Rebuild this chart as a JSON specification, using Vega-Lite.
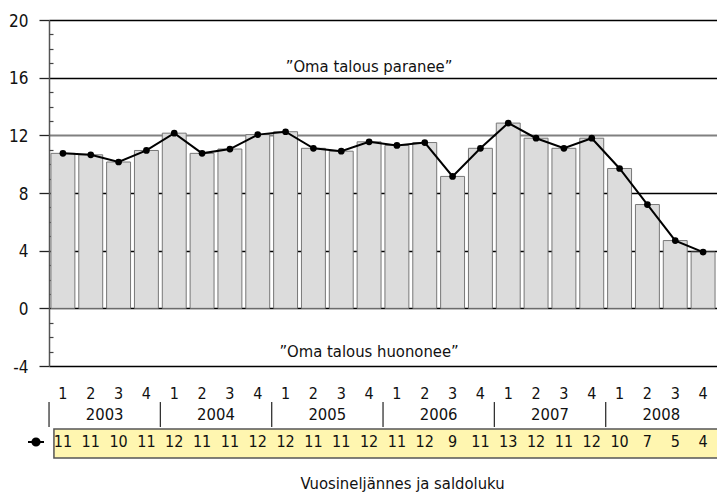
{
  "$schema": "https://vega.github.io/schema/vega-lite/v6.json",
  "width": 668,
  "height": 346,
  "autosize": {"type": "none"},
  "padding": {"left": 49, "top": 20, "right": 0, "bottom": 126},
  "background": "white",
  "config": {
    "font": "DejaVu Sans Condensed, sans-serif",
    "view": {"stroke": null}
  },
  "data": {
    "values": [
      {"q": "2003-1", "vuosi": 2003, "nelj": 1, "saldo": 10.75, "luku": 11},
      {"q": "2003-2", "vuosi": 2003, "nelj": 2, "saldo": 10.65, "luku": 11},
      {"q": "2003-3", "vuosi": 2003, "nelj": 3, "saldo": 10.15, "luku": 10},
      {"q": "2003-4", "vuosi": 2003, "nelj": 4, "saldo": 10.95, "luku": 11},
      {"q": "2004-1", "vuosi": 2004, "nelj": 1, "saldo": 12.15, "luku": 12},
      {"q": "2004-2", "vuosi": 2004, "nelj": 2, "saldo": 10.75, "luku": 11},
      {"q": "2004-3", "vuosi": 2004, "nelj": 3, "saldo": 11.05, "luku": 11},
      {"q": "2004-4", "vuosi": 2004, "nelj": 4, "saldo": 12.05, "luku": 12},
      {"q": "2005-1", "vuosi": 2005, "nelj": 1, "saldo": 12.25, "luku": 12},
      {"q": "2005-2", "vuosi": 2005, "nelj": 2, "saldo": 11.1, "luku": 11},
      {"q": "2005-3", "vuosi": 2005, "nelj": 3, "saldo": 10.9, "luku": 11},
      {"q": "2005-4", "vuosi": 2005, "nelj": 4, "saldo": 11.55, "luku": 12},
      {"q": "2006-1", "vuosi": 2006, "nelj": 1, "saldo": 11.3, "luku": 11},
      {"q": "2006-2", "vuosi": 2006, "nelj": 2, "saldo": 11.5, "luku": 12},
      {"q": "2006-3", "vuosi": 2006, "nelj": 3, "saldo": 9.15, "luku": 9},
      {"q": "2006-4", "vuosi": 2006, "nelj": 4, "saldo": 11.1, "luku": 11},
      {"q": "2007-1", "vuosi": 2007, "nelj": 1, "saldo": 12.85, "luku": 13},
      {"q": "2007-2", "vuosi": 2007, "nelj": 2, "saldo": 11.8, "luku": 12},
      {"q": "2007-3", "vuosi": 2007, "nelj": 3, "saldo": 11.1, "luku": 11},
      {"q": "2007-4", "vuosi": 2007, "nelj": 4, "saldo": 11.8, "luku": 12},
      {"q": "2008-1", "vuosi": 2008, "nelj": 1, "saldo": 9.7, "luku": 10},
      {"q": "2008-2", "vuosi": 2008, "nelj": 2, "saldo": 7.2, "luku": 7},
      {"q": "2008-3", "vuosi": 2008, "nelj": 3, "saldo": 4.7, "luku": 5},
      {"q": "2008-4", "vuosi": 2008, "nelj": 4, "saldo": 3.9, "luku": 4}
    ]
  },
  "layer": [
    {
      "mark": {"type": "bar", "fill": "#dcdcdc", "stroke": "#777777", "strokeWidth": 1},
      "encoding": {
        "x": {
          "field": "q", "type": "ordinal", "sort": null,
          "scale": {"paddingInner": 0.14, "paddingOuter": 0.07},
          "axis": {
            "orient": "bottom", "domain": false, "ticks": false, "tickSize": 0,
            "labelExpr": "substring(datum.value, 5, 6)", "labelAngle": 0,
            "labelFontSize": 16, "labelPadding": 19, "labelBaseline": "top", "labelColor": "#111111",
            "title": "Vuosineljännes ja saldoluku", "titleFontSize": 16.5, "titleFontWeight": "normal",
            "titleColor": "#111111", "titleX": 353, "titleY": 117, "titleBaseline": "middle", "titleAlign": "center"
          }
        },
        "y": {
          "field": "saldo", "type": "quantitative",
          "scale": {"domain": [-4, 20], "nice": false, "zero": false},
          "axis": {
            "orient": "left", "values": [-4, 0, 4, 8, 12, 16, 20], "grid": true,
            "gridColor": {"condition": {"test": "datum.value === 12", "value": "#808080"}, "value": "#000000"},
            "gridWidth": {"condition": {"test": "datum.value === 12", "value": 2}, "value": 1.3},
            "domain": true, "domainColor": "#555555", "domainWidth": 1.5,
            "tickColor": "#222222", "tickSize": 10, "tickWidth": 1.3,
            "labelExpr": "'' + datum.value",
            "labelFontSize": 17, "labelPadding": 11, "labelColor": "#111111", "labelBaseline": "middle", "labelOffset": 1,
            "title": null
          }
        }
      }
    },
    {
      "mark": {"type": "line", "strokeWidth": 2},
      "encoding": {
        "x": {"field": "q", "type": "ordinal", "sort": null},
        "y": {
          "field": "saldo", "type": "quantitative",
          "axis": {
            "orient": "left", "values": [-3, -2, -1, 1, 2, 3, 5, 6, 7, 9, 10, 11, 13, 14, 15, 17, 18, 19],
            "grid": false, "domain": false, "labels": false, "tickSize": -4, "tickColor": "#444444", "tickWidth": 1.2, "title": null
          }
        },
        "color": {
          "datum": "Saldoluku",
          "scale": {"range": ["#000000"]},
          "legend": {
            "orient": "none", "legendX": -22, "legendY": 413, "title": null, "padding": 0,
            "symbolType": "M-1,0H1M0.45,0A0.45,0.45,0,1,1,-0.45,0A0.45,0.45,0,1,1,0.45,0Z",
            "symbolSize": 256, "symbolStrokeWidth": 2, "symbolFillColor": "#000000", "symbolStrokeColor": "#000000",
            "labelExpr": "''", "labelFontSize": 1
          }
        }
      }
    },
    {
      "mark": {"type": "point", "filled": true, "size": 45, "opacity": 1},
      "encoding": {
        "x": {"field": "q", "type": "ordinal", "sort": null},
        "y": {"field": "saldo", "type": "quantitative", "axis": null},
        "color": {"datum": "Saldoluku"}
      }
    },
    {
      "data": {"values": [{"teksti": "”Oma talous paranee”"}]},
      "mark": {"type": "text", "fontSize": 16.5, "baseline": "alphabetic", "align": "center", "color": "#111111"},
      "encoding": {
        "x": {"datum": "2005-4", "type": "ordinal"},
        "y": {"datum": 16.41, "type": "quantitative", "axis": null},
        "text": {"field": "teksti"}
      }
    },
    {
      "data": {"values": [{"teksti": "”Oma talous huononee”"}]},
      "mark": {"type": "text", "fontSize": 16.5, "baseline": "alphabetic", "align": "center", "color": "#111111"},
      "encoding": {
        "x": {"datum": "2005-4", "type": "ordinal"},
        "y": {"datum": -3.35, "type": "quantitative", "axis": null},
        "text": {"field": "teksti"}
      }
    },
    {
      "transform": [{"filter": "datum.nelj == 2"}],
      "mark": {"type": "text", "fontSize": 16.5, "baseline": "middle", "align": "center", "color": "#111111"},
      "encoding": {
        "x": {"field": "q", "type": "ordinal", "sort": null, "bandPosition": 1.08},
        "y": {"datum": -7.4, "type": "quantitative", "axis": null},
        "text": {"field": "vuosi", "type": "nominal"}
      }
    },
    {
      "transform": [{"filter": "datum.nelj == 1"}],
      "mark": {"type": "rule", "color": "#333333", "strokeWidth": 1.3},
      "encoding": {
        "x": {"field": "q", "type": "ordinal", "sort": null, "bandPosition": -0.08},
        "y": {"datum": -6.5, "type": "quantitative", "axis": null},
        "y2": {"datum": -8.23}
      }
    },
    {
      "data": {"values": [{"rivi": "saldoluku"}]},
      "mark": {"type": "rect", "fill": "#fff6b0", "stroke": "#555555", "strokeWidth": 1.5},
      "encoding": {
        "x": {"datum": "2003-1", "type": "ordinal", "bandPosition": 0.125},
        "x2": {"datum": "2008-4", "bandPosition": 1.2},
        "y": {"datum": -8.37, "type": "quantitative", "axis": null},
        "y2": {"datum": -10.38}
      }
    },
    {
      "mark": {"type": "text", "fontSize": 16, "baseline": "middle", "align": "center", "color": "#111111"},
      "encoding": {
        "x": {"field": "q", "type": "ordinal", "sort": null},
        "y": {"datum": -9.27, "type": "quantitative", "axis": null},
        "text": {"field": "luku", "type": "quantitative"}
      }
    }
  ],
  "resolve": {"axis": {"y": "independent"}}
}
